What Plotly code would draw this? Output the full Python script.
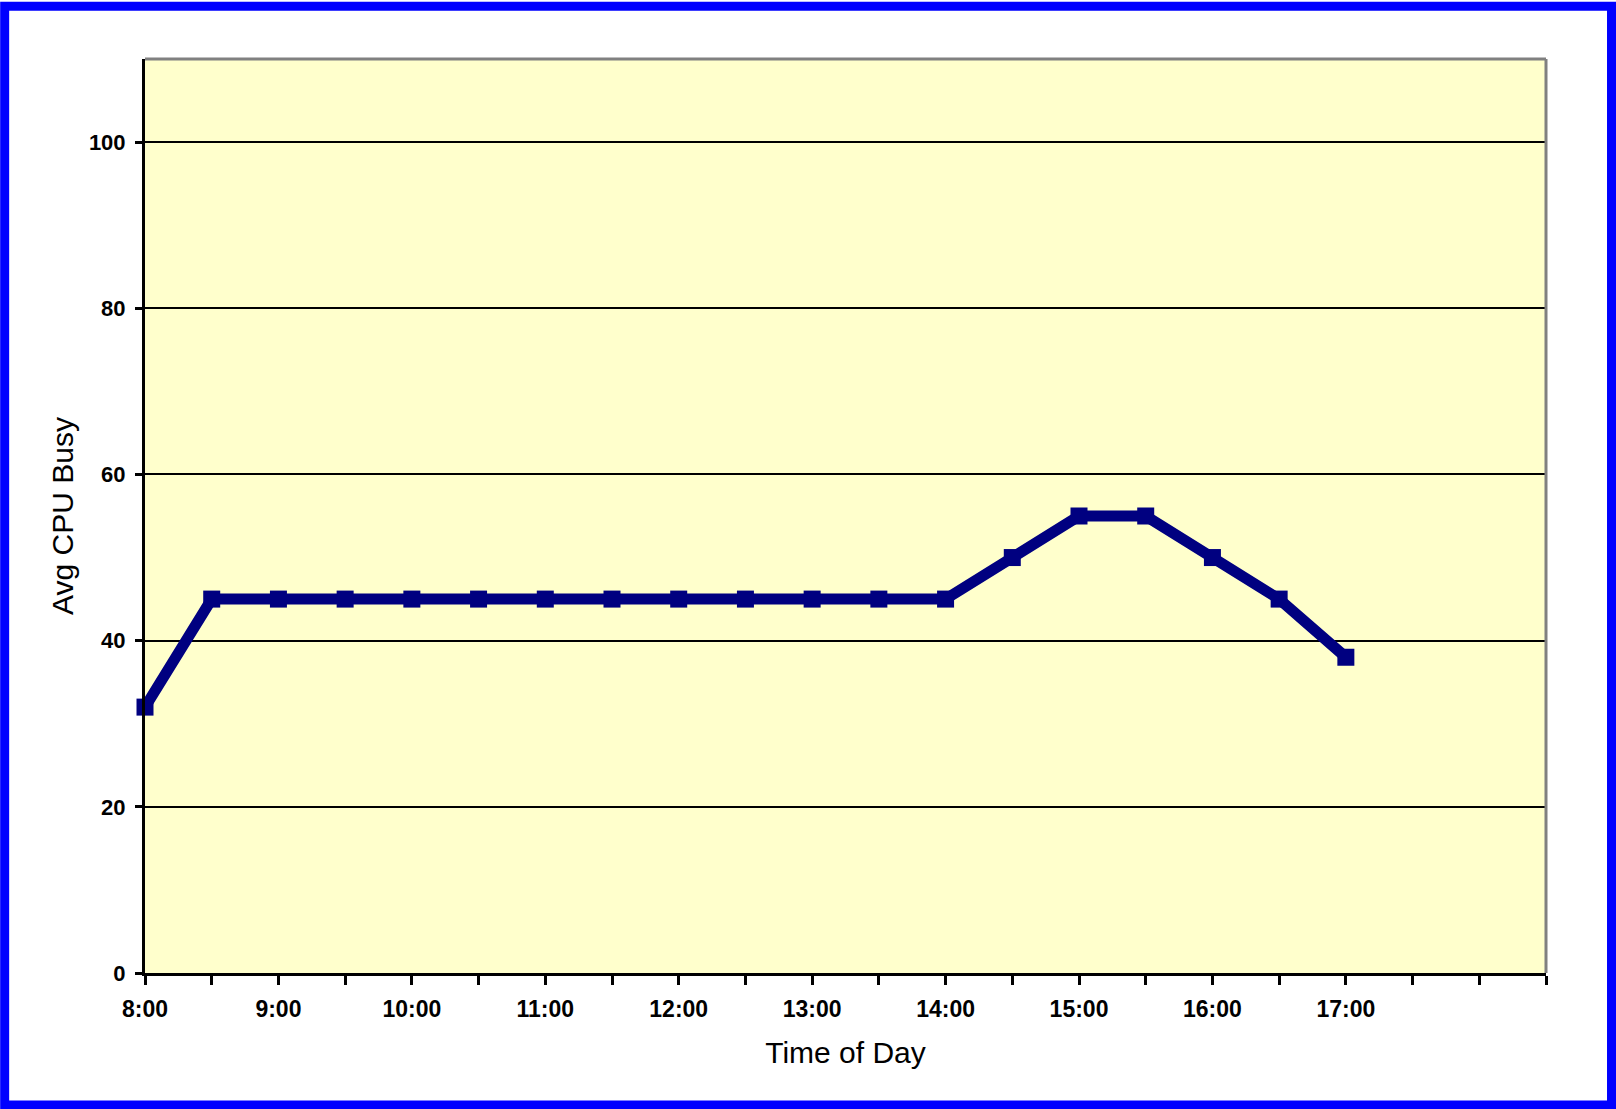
import plotly.graph_objects as go

# ---- data ----
times = ["8:00", "8:30", "9:00", "9:30", "10:00", "10:30", "11:00", "11:30",
         "12:00", "12:30", "13:00", "13:30", "14:00", "14:30", "15:00", "15:30",
         "16:00", "16:30", "17:00"]
cpu_busy = [32, 45, 45, 45, 45, 45, 45, 45, 45, 45, 45, 45, 45, 50, 55, 55, 50, 45, 38]
extra_slots = ["17:30", "18:00", "18:30"]
axis_slots = times + extra_slots
tick_labels = ["8:00", "", "9:00", "", "10:00", "", "11:00", "", "12:00", "",
               "13:00", "", "14:00", "", "15:00", "", "16:00", "", "17:00", "", "", ""]
y_ticks = [0, 20, 40, 60, 80, 100]

W, H = 1616, 1109
L, R, T, B = 145.3, 1546.0, 58.7, 973.0
pw, ph = R - L, B - T

def px(x):
    return (x - L) / pw

def py(y):
    return (B - y) / ph

fig = go.Figure()
fig.add_trace(go.Scatter(
    x=times, y=cpu_busy, mode="lines+markers",
    line=dict(color="#000080", width=11),
    marker=dict(symbol="square", size=17, color="#000080"),
    cliponaxis=False, showlegend=False,
))

font_family = "Liberation Sans, Arial, sans-serif"

fig.update_layout(
    width=W, height=H,
    margin=dict(l=L, r=W - R, t=T, b=H - B, autoexpand=False),
    paper_bgcolor="white",
    plot_bgcolor="#FFFFCC",
    font=dict(family=font_family, color="black"),
    xaxis=dict(
        type="category",
        categoryorder="array", categoryarray=axis_slots,
        range=[0, len(axis_slots) - 1],
        tickmode="array", tickvals=axis_slots, ticktext=tick_labels,
        ticks="outside", ticklen=9, tickwidth=3, tickcolor="black",
        ticklabelstandoff=4,
        showline=True, linecolor="black", linewidth=3,
        showgrid=False, zeroline=False,
        tickfont=dict(size=23, weight="bold", family=font_family, color="black"),
        title=dict(text="Time of Day", font=dict(size=30, family=font_family), standoff=22),
    ),
    yaxis=dict(
        range=[0, 110],
        tickmode="array", tickvals=y_ticks,
        ticks="outside", ticklen=7, tickwidth=3, tickcolor="black",
        ticklabelstandoff=5,
        showline=True, linecolor="black", linewidth=3,
        showgrid=True, gridcolor="black", gridwidth=2,
        zeroline=False,
        tickfont=dict(size=22, weight="bold", family=font_family, color="black"),
        title=dict(text="Avg CPU Busy", font=dict(size=30, family=font_family), standoff=7),
    ),
    shapes=[
        # gray top & right plot border
        dict(type="line", xref="paper", yref="paper", x0=0, x1=1, y0=1, y1=1,
             line=dict(color="#808080", width=3), layer="above"),
        dict(type="line", xref="paper", yref="paper", x0=1, x1=1, y0=0, y1=1,
             line=dict(color="#808080", width=3), layer="above"),
        # blue outer frame
        dict(type="rect", xref="paper", yref="paper",
             x0=px(5), x1=px(1611.5), y0=py(1105), y1=py(6),
             line=dict(color="#0000FF", width=9), fillcolor="rgba(0,0,0,0)"),
    ],
)

fig.write_html("out.html")
